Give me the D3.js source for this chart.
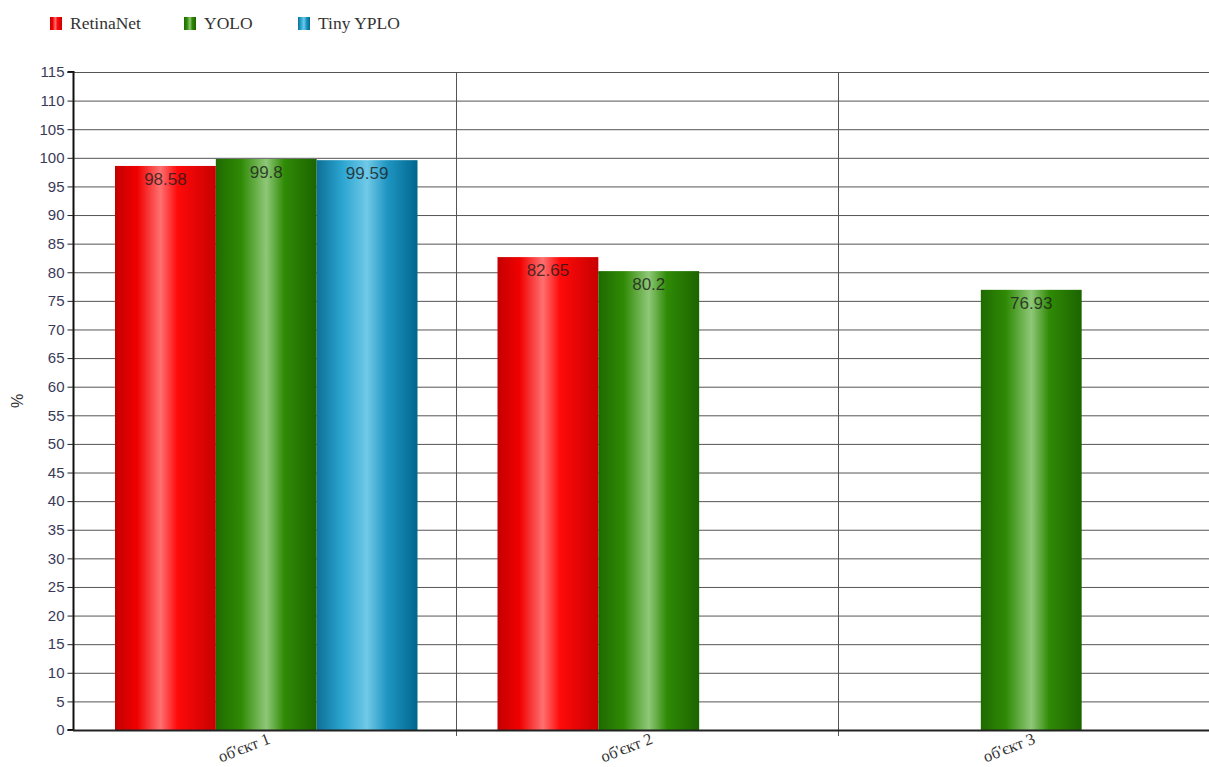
<!DOCTYPE html>
<html>
<head>
<meta charset="utf-8">
<script src="https://cdn.jsdelivr.net/npm/d3@7"></script>
<style>
  html, body { margin: 0; padding: 0; background: #fff; overflow: hidden; }
  svg { display: block; }
</style>
</head>
<body>
<svg id="chart" width="1209" height="767"></svg>
<script>
// Detection accuracy per object and model
const categories = ["об'єкт 1", "об'єкт 2", "об'єкт 3"];
const seriesNames = ["RetinaNet", "YOLO", "Tiny YPLO"];
const retinaNet = [98.58, 82.65, null];
const yolo = [99.8, 80.2, 76.93];
const tinyYolo = [99.59, null, null];
const yTicks = d3.range(0, 116, 5);
const yTitle = "%";

const seriesValues = [retinaNet, yolo, tinyYolo];
const gradients = [
  [["0%", "#c40000"], ["22%", "#f00000"], ["45%", "#ff7070"], ["62%", "#ff0a0a"], ["100%", "#c80000"]],
  [["0%", "#1f6a00"], ["25%", "#2f8a05"], ["50%", "#8fc878"], ["68%", "#2f8a05"], ["100%", "#1c6400"]],
  [["0%", "#0d6f96"], ["25%", "#2aa4d0"], ["50%", "#70c9e8"], ["70%", "#1f95c2"], ["100%", "#00678e"]]
];

const svg = d3.select("#chart");
const defs = svg.append("defs");
gradients.forEach((stops, i) => {
  const g = defs.append("linearGradient").attr("id", "grad" + i)
    .attr("x1", "0%").attr("x2", "100%").attr("y1", "0%").attr("y2", "0%");
  stops.forEach(s => g.append("stop").attr("offset", s[0]).attr("stop-color", s[1]));
});

const plotLeft = 73, plotRight = 1220.5, plotTop = 72, plotBottom = 730;

const x = d3.scaleBand().domain(categories).range([plotLeft, plotRight]).padding(0);
const xs = d3.scaleBand().domain(seriesNames)
  .range([42, x.bandwidth() - 38]).padding(0);
const y = d3.scaleLinear().domain([0, 115]).range([plotBottom, plotTop]);

// horizontal grid
svg.append("g").selectAll("line").data(yTicks).join("line")
  .attr("x1", plotLeft).attr("x2", plotRight)
  .attr("y1", d => y(d) + 0.5).attr("y2", d => y(d) + 0.5)
  .attr("stroke", "#555").attr("stroke-width", 1);

// vertical category separators
const bounds = categories.map(c => x(c)).concat([plotRight]);
svg.append("g").selectAll("line").data(bounds.slice(1)).join("line")
  .attr("x1", d => Math.round(d) + 0.5).attr("x2", d => Math.round(d) + 0.5)
  .attr("y1", plotTop).attr("y2", plotBottom + 6)
  .attr("stroke", "#555").attr("stroke-width", 1);

// bars
const barData = [];
categories.forEach((c, ci) => {
  seriesNames.forEach((s, si) => {
    const v = seriesValues[si][ci];
    if (v != null) barData.push({ c, s, si, v });
  });
});

const bars = svg.append("g");
bars.selectAll("rect").data(barData).join("rect")
  .attr("x", d => x(d.c) + xs(d.s))
  .attr("y", d => y(d.v))
  .attr("width", xs.bandwidth())
  .attr("height", d => plotBottom - y(d.v))
  .attr("fill", d => `url(#grad${d.si})`);

bars.selectAll("text").data(barData).join("text")
  .attr("x", d => x(d.c) + xs(d.s) + xs.bandwidth() / 2)
  .attr("y", d => y(d.v) + 19)
  .attr("text-anchor", "middle")
  .attr("font-family", "'Liberation Sans', sans-serif")
  .attr("font-size", 17)
  .attr("fill", "#1a1a1a")
  .attr("fill-opacity", 0.8)
  .text(d => d.v);

// y axis
const yAxis = d3.axisLeft(y).tickValues(yTicks).tickSize(6).tickPadding(3);
const ya = svg.append("g").attr("transform", `translate(${plotLeft + 0.5},0)`).call(yAxis);
ya.select(".domain").attr("stroke", "#111").attr("stroke-width", 2)
  .attr("d", `M-6,${plotTop}H0V${plotBottom}H-6`);
ya.selectAll(".tick line").attr("stroke", "#222");
ya.selectAll(".tick text")
  .attr("font-family", "'Liberation Sans', sans-serif")
  .attr("font-size", 15)
  .attr("fill", "#3a3a58");

// x axis baseline
svg.append("line")
  .attr("x1", plotLeft).attr("x2", plotRight)
  .attr("y1", plotBottom + 0.5).attr("y2", plotBottom + 0.5)
  .attr("stroke", "#222").attr("stroke-width", 2);

// category labels
svg.append("g").selectAll("text").data(categories).join("text")
  .attr("transform", d => `translate(${x(d) + x.bandwidth() / 2 + 7},${plotBottom + 13}) rotate(-21)`)
  .attr("text-anchor", "end")
  .attr("font-family", "'Liberation Serif', serif")
  .attr("font-size", 16.5)
  .attr("fill", "#333")
  .text(d => d);

// y title
svg.append("text")
  .attr("transform", `translate(23,${(plotTop + plotBottom) / 2}) rotate(-90)`)
  .attr("text-anchor", "middle")
  .attr("font-family", "'Liberation Sans', sans-serif")
  .attr("font-size", 16)
  .attr("fill", "#333")
  .text(yTitle);

// legend
const legendX = [50, 184, 298];
const lg = svg.append("g").selectAll("g").data(seriesNames).join("g")
  .attr("transform", (d, i) => `translate(${legendX[i]},17)`);
lg.append("rect").attr("width", 12).attr("height", 13)
  .attr("fill", (d, i) => `url(#grad${i})`);
lg.append("text").attr("x", 20).attr("y", 12)
  .attr("font-family", "'Liberation Serif', serif")
  .attr("font-size", 17.5)
  .attr("fill", "#333")
  .text(d => d);
</script>
</body>
</html>
